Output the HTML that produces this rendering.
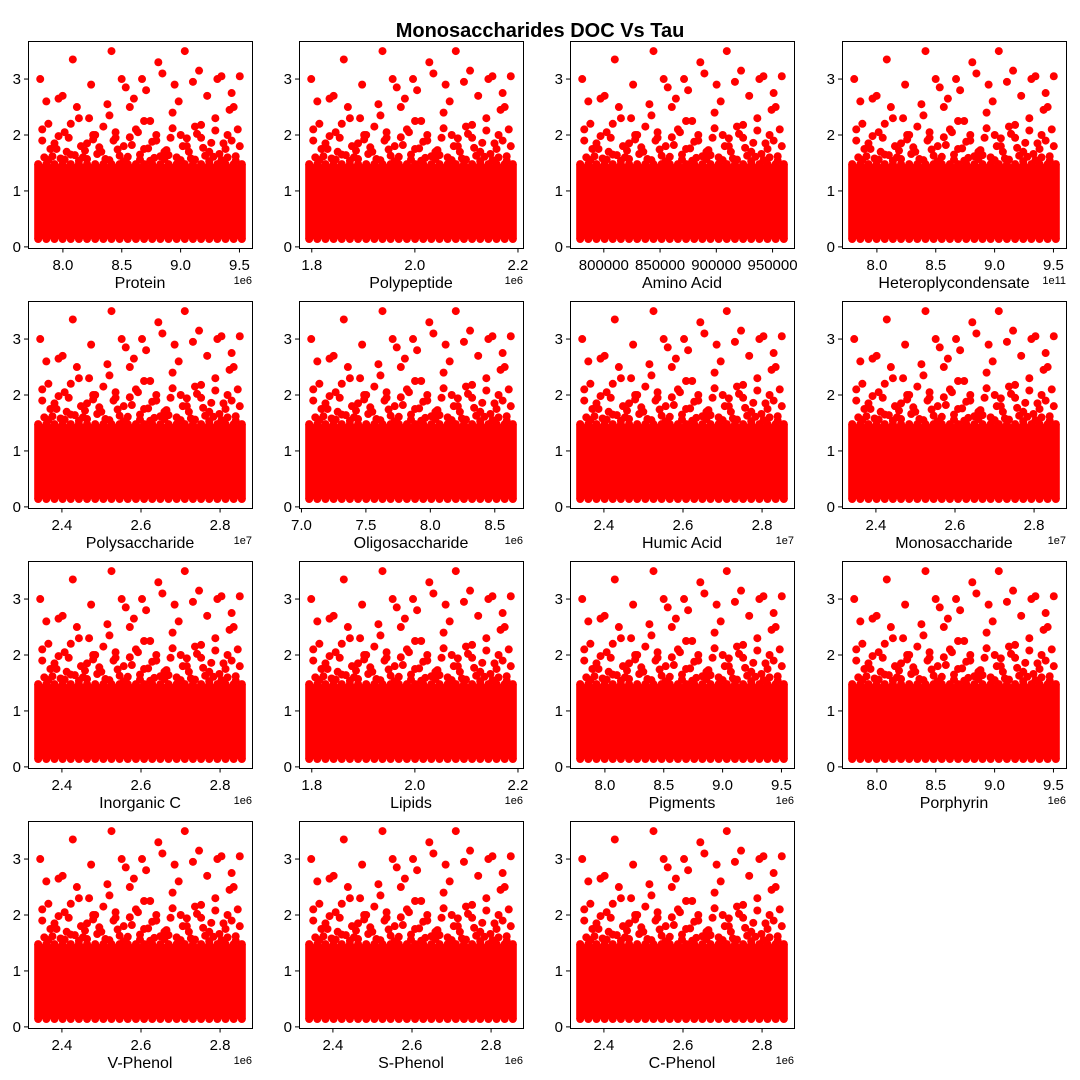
<!DOCTYPE html>
<html><head><meta charset="utf-8">
<style>
body{margin:0;background:#fff;}
svg{display:block;font-family:"Liberation Sans",sans-serif;}
</style></head>
<body>
<svg id="fig" width="1080" height="1080" viewBox="0 0 1080 1080">
<rect width="1080" height="1080" fill="#fff"/>
<text x="540" y="37" text-anchor="middle" font-size="20" font-weight="bold">Monosaccharides DOC Vs Tau</text>
</svg>
<script>
// panel data
const panelNames = ["Protein","Polypeptide","Amino Acid","Heteroplycondensate","Polysaccharide","Oligosaccharide","Humic Acid","Monosaccharide","Inorganic C","Lipids","Pigments","Porphyrin","V-Phenol","S-Phenol","C-Phenol"];
const xMins = [7.79,1.795,779000,7.79,2.34,7.06,2.34,2.34,2.34,1.795,7.79,7.79,2.34,2.34,2.34];
const xMaxs = [9.52,2.19,960000,9.52,2.855,8.64,2.855,2.855,2.855,2.19,9.52,9.52,2.855,2.855,2.855];
const xTicks = [[8.0,8.5,9.0,9.5],[1.8,2.0,2.2],[800000,850000,900000,950000],[8.0,8.5,9.0,9.5],[2.4,2.6,2.8],[7.0,7.5,8.0,8.5],[2.4,2.6,2.8],[2.4,2.6,2.8],[2.4,2.6,2.8],[1.8,2.0,2.2],[8.0,8.5,9.0,9.5],[8.0,8.5,9.0,9.5],[2.4,2.6,2.8],[2.4,2.6,2.8],[2.4,2.6,2.8]];
const xTickLabels = [["8.0","8.5","9.0","9.5"],["1.8","2.0","2.2"],["800000","850000","900000","950000"],["8.0","8.5","9.0","9.5"],["2.4","2.6","2.8"],["7.0","7.5","8.0","8.5"],["2.4","2.6","2.8"],["2.4","2.6","2.8"],["2.4","2.6","2.8"],["1.8","2.0","2.2"],["8.0","8.5","9.0","9.5"],["8.0","8.5","9.0","9.5"],["2.4","2.6","2.8"],["2.4","2.6","2.8"],["2.4","2.6","2.8"]];
const offsetTexts = ["1e6","1e6","","1e11","1e7","1e6","1e7","1e7","1e6","1e6","1e6","1e6","1e6","1e6","1e6"];
const yTicks = [0,1,2,3];
// dense band of tau values (low, high)
const bandTau = [0.14, 1.48];
// sparse points: x as fraction of data range, tau
const sparseFrac = [0.02,0.05,0.09,0.13,0.16,0.2,0.24,0.27,0.31,0.35,0.38,0.42,0.45,0.48,0.52,0.55,0.58,0.62,0.66,0.7,0.73,0.77,0.8,0.84,0.87,0.91,0.94,0.98,
 0.03,0.07,0.11,0.18,0.22,0.29,0.33,0.4,0.44,0.5,0.57,0.6,0.64,0.68,0.75,0.82,0.86,0.89,0.93,0.97,
 0.04,0.12,0.19,0.26,0.34,0.41,0.47,0.53,0.61,0.69,0.76,0.83,0.9,0.96,
 0.01,0.1,0.17,0.25,0.36,0.43,0.51,0.59,0.67,0.72,0.79,0.88,0.95,0.99,
 0.06,0.08,0.14,0.15,0.21,0.23,0.28,0.3,0.37,0.39,0.46,0.49,0.54,0.56,0.63,0.65,0.71,0.74,0.78,0.81,0.85,0.92,0.95,0.99,
 0.02,0.1,0.16,0.27,0.32,0.38,0.45,0.52,0.58,0.66,0.73,0.8,0.87,0.93,
 0.05,0.13,0.2,0.24,0.35,0.42,0.5,0.55,0.62,0.7,0.77,0.84,0.9,0.97];
const sparseTau = [1.9,2.2,1.75,2.05,1.65,2.3,1.85,2.0,1.7,2.35,1.95,1.8,2.5,2.1,1.75,2.25,1.9,1.7,2.4,2.0,1.8,2.15,1.95,1.7,2.3,1.85,2.45,2.1,
 1.6,1.62,1.58,1.64,1.6,1.66,1.57,1.63,1.61,1.65,1.59,1.62,1.64,1.6,1.58,1.63,1.61,1.66,1.6,1.62,
 2.6,2.7,2.5,2.9,2.55,3.0,2.65,2.8,3.1,2.6,2.95,2.7,3.05,2.5,
 3.0,2.65,3.35,2.3,3.5,2.85,3.0,3.3,2.9,3.5,3.15,3.0,2.75,3.05,
 1.75,1.85,1.7,1.95,1.8,1.72,2.0,1.78,1.9,1.74,1.82,2.05,1.76,1.88,1.73,1.95,1.8,1.7,2.02,1.77,1.86,1.75,1.9,1.8,
 2.1,1.98,2.2,1.92,2.15,2.05,1.96,2.25,2.0,2.12,1.94,2.18,2.08,2.0,
 1.55,1.56,1.54,1.57,1.55,1.53,1.56,1.54,1.57,1.55,1.56,1.53,1.55,1.54];
const bandEdgeFrac = [0,0.04,0.08,0.12,0.16,0.2,0.24,0.28,0.32,0.36,0.4,0.44,0.48,0.52,0.56,0.6,0.64,0.68,0.72,0.76,0.8,0.84,0.88,0.92,0.96,1];

const NS="http://www.w3.org/2000/svg";
const svg=document.getElementById('fig');
const colL=[28,299,570,842], rowT=[41,301,561,821], W=224, H=207;
const yMin=-0.02, yMax=3.68;
function mk(tag,attrs,parent){const e=document.createElementNS(NS,tag);for(const k in attrs)e.setAttribute(k,attrs[k]);parent.appendChild(e);return e;}

panelNames.forEach((name,i)=>{
  const L=colL[i%4], T=rowT[Math.floor(i/4)];
  const g=mk('g',{},svg);
  
  
  const dmin=xMins[i], dmax=xMaxs[i], pad=(dmax-dmin)*0.05;
  const x0=dmin-pad, x1=dmax+pad;
  const sx=v=>L+(v-x0)/(x1-x0)*W;
  const sy=v=>T+H-(v-yMin)/(yMax-yMin)*H;
  const fx=f=>dmin+f*(dmax-dmin);
  const marks=mk('g',{fill:'#ff0000'},g);
  
  
  const band=mk('rect',{x:sx(dmin)-4,y:sy(bandTau[1]),width:sx(dmax)-sx(dmin)+8,height:sy(bandTau[0])-sy(bandTau[1])},marks);
  
  
  bandEdgeFrac.forEach(f=>{
    [bandTau[0],bandTau[1]].forEach(t=>{
      const c=mk('circle',{cx:sx(fx(f)),cy:sy(t),r:4},marks);
      
      
    });
  });
  sparseFrac.forEach((f,j)=>{
    const c=mk('circle',{cx:sx(fx(f)),cy:sy(sparseTau[j]),r:4},marks);
    
    
  });
  const fr=mk('rect',{x:L+0.5,y:T+0.5,width:W,height:H,fill:'none',stroke:'#000','stroke-width':1},g);
  
  
  yTicks.forEach(t=>{
    const y=sy(t);
    mk('line',{x1:L-4,x2:L,y1:y,y2:y,stroke:'#000'},g);
    const tx=mk('text',{x:L-7,y:y+5,'text-anchor':'end','font-size':15},g);
    tx.textContent=t;
    
    
  });
  xTicks[i].forEach((t,k)=>{
    const x=sx(t);
    mk('line',{x1:x,x2:x,y1:T+H+0.5,y2:T+H+4.5,stroke:'#000'},g);
    const tx=mk('text',{x:x,y:T+H+22,'text-anchor':'middle','font-size':15},g);
    tx.textContent=xTickLabels[i][k];
    
    
  });
  const lb=mk('text',{x:L+W/2,y:T+H+40,'text-anchor':'middle','font-size':16},g);
  lb.textContent=name;
  
  
  if(offsetTexts[i]){
    const o=mk('text',{x:L+W,y:T+H+36,'text-anchor':'end','font-size':11},g);
    o.textContent=offsetTexts[i];
    
    
  }
});
</script>
</body></html>
